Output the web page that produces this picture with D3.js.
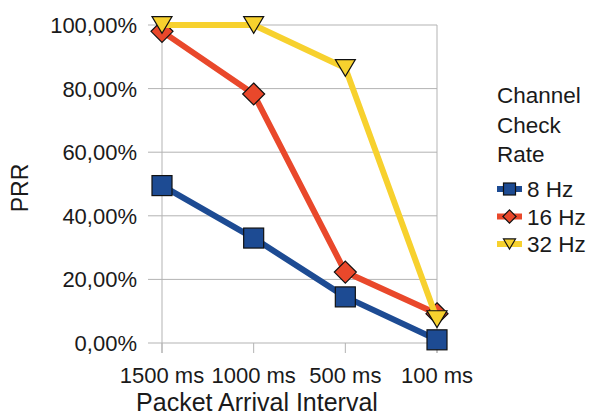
<!DOCTYPE html>
<html><head><meta charset="utf-8">
<script src="https://cdn.jsdelivr.net/npm/d3@7"></script>
<style>body{margin:0;background:#fff}svg{display:block}text{font-family:"Liberation Sans",Arial,sans-serif;fill:#1a1a1a}</style>
</head><body>
<svg id="c" width="592" height="418"></svg>
<script>
const categories = ["1500 ms","1000 ms","500 ms","100 ms"];
const seriesNames = ["8 Hz","16 Hz","32 Hz"];
const hz8 = [0.495, 0.33, 0.145, 0.01];
const hz16 = [0.98, 0.783, 0.223, 0.092];
const hz32 = [1.0, 1.0, 0.865, 0.075];
const yTicks = [0,0.2,0.4,0.6,0.8,1.0];
const legendTitle = ["Channel","Check","Rate"];

const colors = ["#1d4b93","#e9482b","#f7d12e"];
const shapes = ["square","diamond","triangle"];
const series = [hz8,hz16,hz32];

const svg = d3.select("#c");
const x = d3.scalePoint().domain(categories).range([162,437]);
const y = d3.scaleLinear().domain([0,1]).range([343,25]);
const loc = d3.formatLocale({decimal:",",thousands:".",grouping:[3],currency:["","€"]});
const fmt = loc.format(".2%");

// gridlines
const g = svg.append("g");
g.selectAll("line.grid").data(yTicks).join("line")
  .attr("x1",148).attr("x2",437).attr("y1",d=>y(d)).attr("y2",d=>y(d))
  .attr("stroke","#b3b3b3").attr("stroke-width",1);
g.append("line").attr("x1",437).attr("x2",437).attr("y1",y(1)).attr("y2",y(0)+10).attr("stroke","#b3b3b3");
g.append("line").attr("x1",162).attr("x2",162).attr("y1",y(1)).attr("y2",y(0)+10).attr("stroke","#b3b3b3");
g.selectAll("line.xt").data(categories).join("line")
  .attr("x1",d=>x(d)).attr("x2",d=>x(d)).attr("y1",y(0)).attr("y2",y(0)+10).attr("stroke","#b3b3b3");

svg.selectAll("text.yl").data(yTicks).join("text")
  .attr("x",137).attr("y",d=>y(d)+8).attr("text-anchor","end")
  .attr("font-size",22).text(d=>fmt(d));
svg.selectAll("text.xl").data(categories).join("text")
  .attr("x",d=>x(d)).attr("y",383).attr("text-anchor","middle")
  .attr("font-size",22).text(d=>d);
svg.append("text").attr("x",257).attr("y",411).attr("text-anchor","middle")
  .attr("font-size",25).text("Packet Arrival Interval");
svg.append("text").attr("transform","translate(28,188) rotate(-90)").attr("text-anchor","middle")
  .attr("font-size",23).text("PRR");

function marker(sel, shape, color, s){
  if(shape==="square"){
    sel.append("rect").attr("x",-s/2).attr("y",-s/2).attr("width",s).attr("height",s)
      .attr("fill",color).attr("stroke","#111").attr("stroke-width",1.2);
  } else if(shape==="diamond"){
    const h=s*0.55;
    sel.append("path").attr("d",`M0,${-h}L${h},0L0,${h}L${-h},0Z`)
      .attr("fill",color).attr("stroke","#111").attr("stroke-width",1.2);
  } else {
    const w=s*0.5;
    sel.append("path").attr("d",`M${-w},${-s*0.42}L${w},${-s*0.42}L0,${s*0.42}Z`)
      .attr("fill",color).attr("stroke","#111").attr("stroke-width",1.2);
  }
}

const line = d3.line().x((d,i)=>x(categories[i])).y(d=>y(d));
series.forEach((vals,si)=>{
  const sg = svg.append("g");
  sg.append("path").attr("d",line(vals)).attr("fill","none")
    .attr("stroke",colors[si]).attr("stroke-width",6).attr("stroke-linejoin","round");
  vals.forEach((v,i)=>{
    const m = sg.append("g").attr("transform",`translate(${x(categories[i])},${y(v)})`);
    marker(m, shapes[si], colors[si], 20);
  });
});

const lx = 497;
svg.selectAll("text.lt").data(legendTitle).join("text")
  .attr("x",lx).attr("y",(d,i)=>103+i*29.5).attr("font-size",22.5).text(d=>d);
seriesNames.forEach((n,i)=>{
  const cy = 189 + i*27.5;
  const lg = svg.append("g");
  lg.append("line").attr("x1",lx).attr("x2",lx+25).attr("y1",cy).attr("y2",cy)
    .attr("stroke",colors[i]).attr("stroke-width",6);
  const m = lg.append("g").attr("transform",`translate(${lx+12.5},${cy})`);
  marker(m, shapes[i], colors[i], 12);
  lg.append("text").attr("x",lx+30).attr("y",cy+8).attr("font-size",22.5).text(n);
});
</script>
</body></html>
